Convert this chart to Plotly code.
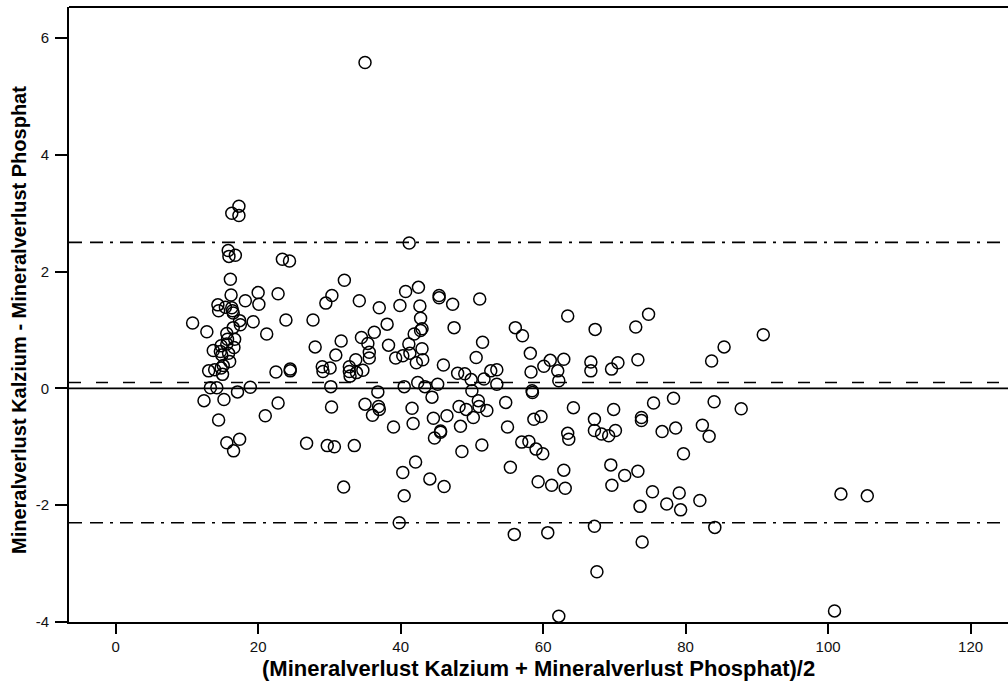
import plotly.graph_objects as go

# Mean of the two methods (x) and difference Kalzium - Phosphat (y)
mean_values = [
    15.8, 15.9, 16.8, 16.1, 16.2, 14.35, 14.45, 15.4, 16.3, 16.4, 16.5, 17.4, 17.5, 16.5,
    15.6, 15.7, 16.7, 14.8, 15.6, 16.6, 13.7, 14.7, 14.9, 15.85, 16.0, 13.05, 13.9, 14.8,
    15.1, 15.0, 13.3, 14.2, 15.2, 12.4, 14.45, 17.4, 15.6, 16.55, 10.8, 12.8,
    17.3, 16.3, 17.3, 20.0, 20.1, 23.4, 24.4, 22.8, 18.2, 19.3, 21.2, 23.9, 22.5, 24.5,
    24.5, 22.8, 21.0, 18.9, 17.1, 26.8,
    32.1, 30.35, 29.5, 40.7, 42.5, 45.4, 45.4, 47.3, 51.1, 34.2, 37.0, 39.9, 42.7, 27.7,
    42.8, 38.1, 47.5, 36.3, 34.5, 35.4, 31.65, 43.0, 42.8, 41.9, 28.0, 35.6, 35.6, 38.3,
    41.15, 43.0, 51.5, 30.9, 33.7, 39.3, 40.3, 41.3, 43.1, 42.2, 50.6, 46.0, 29.0, 29.1,
    30.1, 32.8, 32.8, 32.9, 33.8, 34.7, 48.0, 49.0, 49.9, 51.7, 52.65, 53.5, 53.5, 42.4,
    45.2, 43.4, 40.5, 30.2, 36.8, 50.0, 30.3, 35.0, 36.9, 37.0, 36.05, 41.6, 44.4, 48.2,
    49.2, 50.9, 51.0, 52.1, 50.2, 39.0, 41.75, 44.6, 46.5, 48.4, 44.75, 45.6, 45.6, 29.7,
    30.7, 33.5, 48.6, 51.4, 42.1, 40.3, 44.1, 46.1, 32.0, 40.5, 39.8, 35.0, 41.2,
    63.45, 74.8, 56.1, 57.1, 67.3, 73.0, 90.9, 85.4, 58.2, 83.65, 60.1, 61.0, 62.9, 62.05,
    58.3, 66.7, 66.7, 70.5, 69.6, 73.3, 62.2, 58.45, 58.5, 54.75, 64.25, 69.9, 75.5, 78.3,
    84.0, 87.8, 58.7, 59.7, 67.2, 73.8, 73.8, 55.0, 63.45, 63.6, 67.2, 68.2, 69.2, 70.15,
    76.7, 78.6, 82.35, 83.3, 57.0, 58.0, 59.0, 59.95, 79.7, 55.4, 62.9, 69.5, 71.45, 73.3,
    59.3, 61.2, 63.1, 69.65, 75.35, 79.1, 77.35, 79.3, 82.0, 73.6, 67.2, 55.95, 60.65,
    84.1, 73.9, 67.55, 62.2, 101.8, 105.5, 100.9,
]
diff_values = [
    2.36, 2.26, 2.28, 1.87, 1.60, 1.43, 1.33, 1.39, 1.38, 1.33, 1.29, 1.16, 1.09, 1.04,
    0.94, 0.84, 0.84, 0.73, 0.76, 0.70, 0.65, 0.63, 0.57, 0.60, 0.46, 0.30, 0.32, 0.35,
    0.39, 0.24, 0.01, 0.01, -0.19, -0.21, -0.54, -0.87, -0.93, -1.07, 1.12, 0.97,
    3.12, 3.00, 2.96, 1.64, 1.44, 2.21, 2.18, 1.62, 1.50, 1.14, 0.93, 1.17, 0.28, 0.33,
    0.30, -0.25, -0.47, 0.02, -0.06, -0.94,
    1.85, 1.59, 1.46, 1.66, 1.73, 1.59, 1.55, 1.44, 1.53, 1.50, 1.38, 1.42, 1.41, 1.17,
    1.20, 1.10, 1.04, 0.96, 0.87, 0.77, 0.81, 1.02, 0.99, 0.93, 0.71, 0.62, 0.52, 0.74,
    0.76, 0.68, 0.79, 0.57, 0.49, 0.52, 0.56, 0.60, 0.49, 0.44, 0.53, 0.40, 0.37, 0.29,
    0.35, 0.37, 0.29, 0.21, 0.27, 0.31, 0.26, 0.25, 0.15, 0.16, 0.30, 0.32, 0.07, 0.10,
    0.07, 0.03, 0.03, 0.03, -0.06, -0.04, -0.32, -0.27, -0.31, -0.36, -0.46, -0.34, -0.15, -0.31,
    -0.36, -0.21, -0.31, -0.38, -0.50, -0.66, -0.60, -0.51, -0.47, -0.65, -0.85, -0.75, -0.73, -0.98,
    -1.00, -0.98, -1.08, -0.97, -1.26, -1.44, -1.55, -1.68, -1.69, -1.84, -2.30, 5.58, 2.49,
    1.24, 1.27, 1.04, 0.90, 1.01, 1.05, 0.92, 0.71, 0.60, 0.47, 0.38, 0.48, 0.50, 0.30,
    0.28, 0.45, 0.30, 0.44, 0.33, 0.49, 0.13, -0.04, -0.07, -0.24, -0.33, -0.36, -0.25, -0.17,
    -0.23, -0.35, -0.53, -0.48, -0.53, -0.50, -0.55, -0.66, -0.77, -0.87, -0.72, -0.78, -0.81, -0.72,
    -0.74, -0.68, -0.63, -0.82, -0.92, -0.91, -1.04, -1.12, -1.12, -1.35, -1.40, -1.31, -1.49, -1.42,
    -1.60, -1.66, -1.71, -1.66, -1.77, -1.79, -1.98, -2.08, -1.92, -2.02, -2.36, -2.50, -2.47,
    -2.38, -2.63, -3.14, -3.90, -1.81, -1.84, -3.81,
]

mean_difference = 0.10
upper_limit = 2.50
lower_limit = -2.30

x_tickvals = [0, 20, 40, 60, 80, 100, 120]
x_ticktext = ["0", "20", "40", "60", "80", "100", "120"]
y_tickvals = [-4, -2, 0, 2, 4, 6]
y_ticktext = ["-4", "-2", "0", "2", "4", "6"]

x_title = "(Mineralverlust Kalzium + Mineralverlust Phosphat)/2"
y_title = "Mineralverlust Kalzium - Mineralverlust Phosphat"

FONT = "Liberation Sans, Arial, Helvetica, sans-serif"

fig = go.Figure()
fig.add_trace(go.Scatter(
    x=mean_values, y=diff_values, mode="markers",
    marker=dict(symbol="circle-open", size=12, color="black", line=dict(width=1.5, color="black")),
    showlegend=False, hoverinfo="x+y",
))

dashdot = "13px,8px,13px,7px,3px,7px"
fig.add_hline(y=0, line=dict(color="black", width=1.6))
fig.add_hline(y=mean_difference, line=dict(color="black", width=1.6, dash="12px,15px"))
fig.add_hline(y=upper_limit, line=dict(color="black", width=1.6, dash=dashdot))
fig.add_hline(y=lower_limit, line=dict(color="black", width=1.6, dash=dashdot))

# top frame line
fig.add_shape(type="line", xref="paper", yref="paper", x0=0, x1=1, y0=1, y1=1,
              line=dict(color="black", width=2))

fig.update_layout(
    width=1008, height=682,
    margin=dict(l=69, r=0, t=7, b=60),
    paper_bgcolor="white", plot_bgcolor="white",
    font=dict(family=FONT, color="black", size=14),
    xaxis=dict(range=[-6.55, 125.25], tickvals=x_tickvals, ticktext=x_ticktext,
               ticks="outside", ticklen=10, tickwidth=2, tickcolor="black",
               showline=True, linewidth=2, linecolor="black", showgrid=False, zeroline=False,
               tickfont=dict(size=15, family=FONT, color="#111"), automargin=False),
    yaxis=dict(range=[-4, 6.53], tickvals=y_tickvals, ticktext=y_ticktext,
               ticks="outside", ticklen=12, tickwidth=2, tickcolor="black",
               showline=True, linewidth=2, linecolor="black", showgrid=False, zeroline=False,
               tickfont=dict(size=15, family=FONT, color="#111"), automargin=False,
               ticklabelstandoff=3),
    annotations=[
        dict(text="<b>" + x_title + "</b>", xref="paper", yref="paper",
             x=0.5, y=(682 - 668 - 60) / 615.0, xanchor="center", yanchor="middle",
             showarrow=False, font=dict(size=22, family=FONT, color="black")),
        dict(text="<b>" + y_title + "</b>", xref="paper", yref="paper",
             x=(19 - 69) / 939.0, y=(622 - 320) / 615.0, xanchor="center", yanchor="middle",
             textangle=-90,
             showarrow=False, font=dict(size=20, family=FONT, color="black")),
    ],
)

fig.write_html("out.html")
